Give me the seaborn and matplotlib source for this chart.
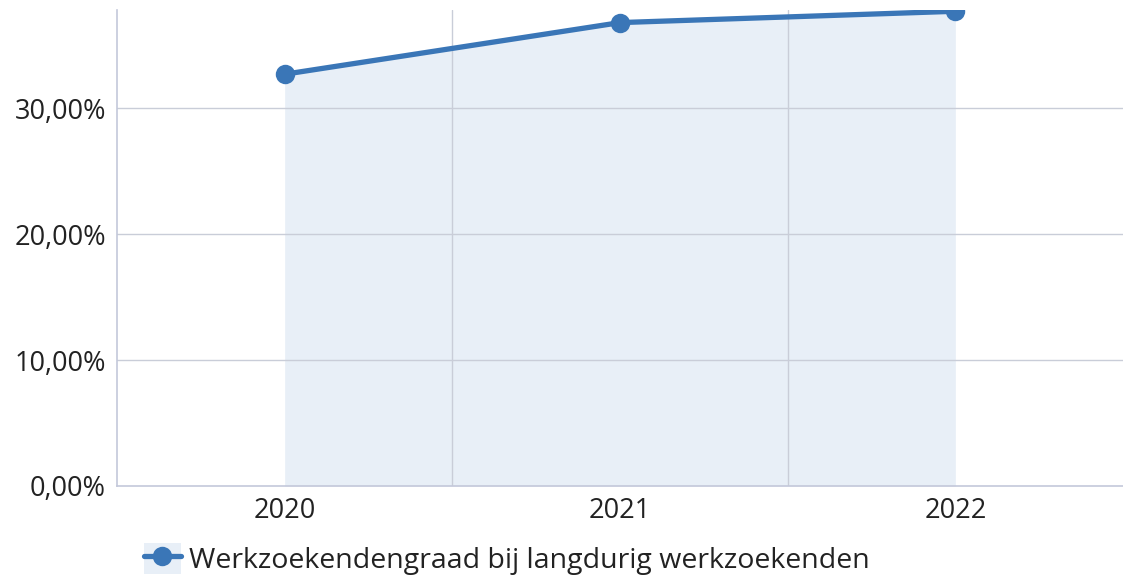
import matplotlib.pyplot as plt
import seaborn as sns
import pandas as pd
from matplotlib.lines import Line2D
from matplotlib.patches import Patch
from matplotlib.ticker import FuncFormatter

years = ['2020', '2021', '2022']
values = [32.7, 36.8, 37.7]
series_name = 'Werkzoekendengraad bij langdurig werkzoekenden'

df = pd.DataFrame({'jaar': years, 'waarde': values})

sns.set_style('white')
plt.rcParams['font.family'] = ['Open Sans', 'DejaVu Sans']

LINE = '#3a76b7'
FILL = '#e8eff7'
GRID = '#c9cdd8'

fig = plt.figure(figsize=(11.23, 5.81), dpi=100)
ax = fig.add_axes([117 / 1123, 95 / 581, 1 - 117 / 1123, 476 / 581])

ax.fill_between(years, values, 0, color=FILL, lw=0, zorder=1)
sns.lineplot(data=df, x='jaar', y='waarde', ax=ax, color=LINE, lw=3.8,
             marker='o', markersize=14, markeredgewidth=0, zorder=3)

ax.set_xlim(-0.5, 2.5)
ax.set_ylim(0, 37.8)
ax.set_yticks([0, 10, 20, 30])
ax.yaxis.set_major_formatter(FuncFormatter(lambda v, p: f'{v:.2f}%'.replace('.', ',')))

for y in [10, 20, 30]:
    ax.axhline(y, color=GRID, lw=1, zorder=2)
for x in [0.5, 1.5]:
    ax.axvline(x, color=GRID, lw=1, zorder=2)

for s in ['top', 'right']:
    ax.spines[s].set_visible(False)
ax.spines['left'].set_color('#c3c8da')
ax.spines['bottom'].set_color('#c3c8da')
ax.spines['left'].set_linewidth(1.2)
ax.spines['bottom'].set_linewidth(1.2)

ax.tick_params(axis='both', length=0, labelsize=19.5, colors='#222222')
ax.tick_params(axis='x', pad=8)
ax.tick_params(axis='y', pad=8)
ax.set_xlabel('')
ax.set_ylabel('')

handle = (Patch(facecolor=FILL, edgecolor='none'),
          Line2D([], [], color=LINE, lw=3.8, marker='o', markersize=14, markeredgewidth=0))
fig.legend([handle], [series_name], loc='center left', bbox_to_anchor=(118 / 1123, 22 / 581),
           frameon=False, fontsize=20.5, handlelength=1.3, handleheight=1.3,
           handletextpad=0.3, labelcolor='#222222')

plt.savefig('out.png', dpi=100)
